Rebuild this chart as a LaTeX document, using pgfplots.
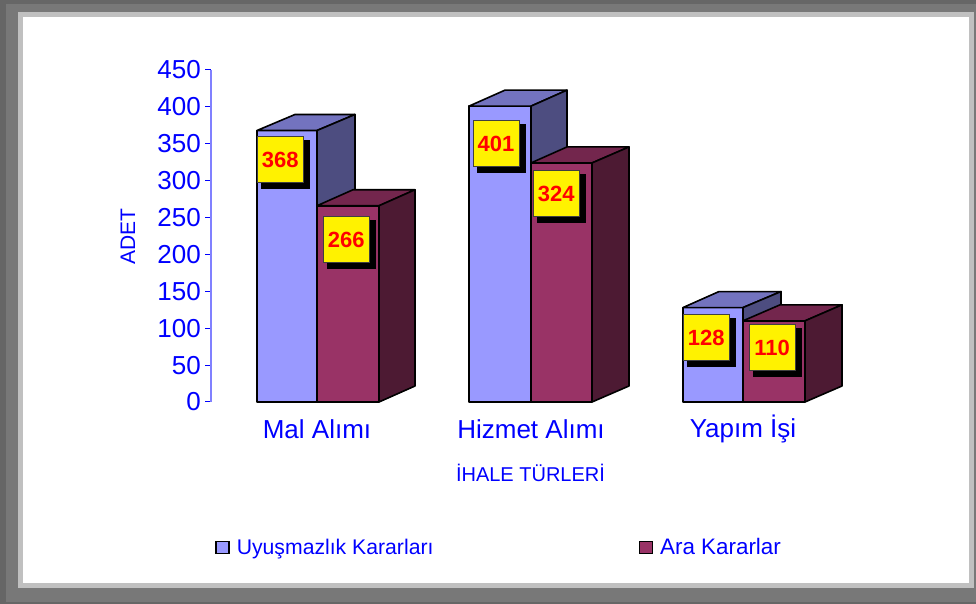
\documentclass[border=0pt]{standalone}
\usepackage{pgfplots}
\pgfplotsset{compat=1.18}
\usepackage{fontspec}
\setmainfont{Liberation Sans}
\definecolor{frameD}{HTML}{666666}
\definecolor{frameM}{HTML}{787878}
\definecolor{frameL}{HTML}{C0C0C0}
\definecolor{axisL}{HTML}{8080FF}
\definecolor{txt}{HTML}{0000FF}
\definecolor{aF}{HTML}{9999FF}
\definecolor{aT}{HTML}{7373BF}
\definecolor{aS}{HTML}{4D4D80}
\definecolor{bF}{HTML}{993366}
\definecolor{bT}{HTML}{73264D}
\definecolor{bS}{HTML}{4D1A33}
\newcommand{\fs}[1]{\fontsize{#1}{#1}\selectfont}
\tikzset{
  edge/.style={draw=black,line width=1.6pt,line join=round},
  boxS/.style={fill=black,draw=none,minimum width=49pt,minimum height=49pt,inner sep=0pt,anchor=center},
  boxY/.style={fill=yellow,draw=black!75,line width=0.6pt,minimum width=46pt,minimum height=46pt,inner sep=0pt,anchor=center,text=red,font=\fs{22}\bfseries},
}
\newcommand{\lab}[3]{%
  \addplot[draw=none,forget plot] coordinates {(#1,#2)}
    node[pos=0,boxS,xshift=5.3pt,yshift=#3pt-4.8pt] {}
    node[pos=0,boxY,yshift=#3pt] {#2};
}
\begin{document}
\begin{tikzpicture}[x=1pt,y=1pt]
\path[use as bounding box] (0,0) rectangle (976,604);
\fill[frameD] (0,0) rectangle (976,604);
\fill[frameM] (6,2) rectangle (976,600);
\fill[frameL] (18,16) rectangle (974,592);
\fill[white] (23,21) rectangle (969,587);
\begin{axis}[
  at={(211pt,202pt)},anchor=origin,
  scale only axis,width=700pt,height=332pt,
  xmin=211,xmax=911,ymin=0,ymax=450,
  clip=false,
  axis y line=left,axis x line=bottom,
  y axis line style={-,draw=axisL,line width=2pt},
  x axis line style={-,draw=none},
  xtick={317,531,743},
  xticklabels={Mal Alımı,Hizmet Alımı,Yapım İşi},
  ytick={0,50,...,450},
  tick align=outside,
  major tick length=6pt,
  xtick style={draw=none},
  ytick style={draw=txt,line width=1pt},
  tick label style={font=\fs{26},text=txt},
  /pgf/number format/assume math mode=true,
  yticklabel style={inner sep=0pt,xshift=-4pt},
  xticklabel style={anchor=center,yshift=-21pt,inner sep=0pt},
  xlabel={İHALE TÜRLERİ},
  xlabel style={at={(axis description cs:0.4564,-0.2139)},anchor=center,font=\fs{20},text=txt,inner sep=0pt},
  ylabel={ADET},
  ylabel style={at={(axis description cs:-0.1186,0.497)},anchor=center,font=\fs{21},text=txt,inner sep=0pt,rotate=0},
  legend columns=2,
  legend style={at={(axis cs:215,-197)},anchor=west,draw=none,fill=none,font=\fs{21},text=txt,inner sep=0pt,
    /tikz/every even column/.append style={column sep=203pt}},
  legend image code/.code={\draw[#1,line width=1.6pt] (0pt,-6pt) rectangle (13pt,6pt);},
]
% axis line
\addplot[axisL,line width=2pt,forget plot] coordinates {(211,0)(211,450)};
% Mal Alımı
\addplot[ybar,bar width=60pt,fill=aF,edge,forget plot] coordinates {(287,368)};
\addplot[fill=aT,edge,forget plot] coordinates {(257,368)(317,368)(355,389.7)(295,389.7)} -- cycle;
\addplot[fill=aS,edge,forget plot] coordinates {(317,0)(355,21.7)(355,389.7)(317,368)} -- cycle;
\addplot[ybar,bar width=62pt,fill=bF,edge,forget plot] coordinates {(348,266)};
\addplot[fill=bT,edge,forget plot] coordinates {(317,266)(379,266)(415,287.7)(353,287.7)} -- cycle;
\addplot[fill=bS,edge,forget plot] coordinates {(379,0)(415,21.7)(415,287.7)(379,266)} -- cycle;
% Hizmet Alımı
\addplot[ybar,bar width=62pt,fill=aF,edge,forget plot] coordinates {(500,401)};
\addplot[fill=aT,edge,forget plot] coordinates {(469,401)(531,401)(567,422.7)(505,422.7)} -- cycle;
\addplot[fill=aS,edge,forget plot] coordinates {(531,0)(567,21.7)(567,422.7)(531,401)} -- cycle;
\addplot[ybar,bar width=61pt,fill=bF,edge,forget plot] coordinates {(561.5,324)};
\addplot[fill=bT,edge,forget plot] coordinates {(531,324)(592,324)(629,345.7)(567,345.7)} -- cycle;
\addplot[fill=bS,edge,forget plot] coordinates {(592,0)(629,21.7)(629,345.7)(592,324)} -- cycle;
% Yapım İşi
\addplot[ybar,bar width=60pt,fill=aF,edge,forget plot] coordinates {(713,128)};
\addplot[fill=aT,edge,forget plot] coordinates {(683,128)(743,128)(781,149.7)(719,149.7)} -- cycle;
\addplot[fill=aS,edge,forget plot] coordinates {(743,0)(781,21.7)(781,149.7)(743,128)} -- cycle;
\addplot[ybar,bar width=62pt,fill=bF,edge,forget plot] coordinates {(774,110)};
\addplot[fill=bT,edge,forget plot] coordinates {(743,110)(805,110)(842,131.7)(780,131.7)} -- cycle;
\addplot[fill=bS,edge,forget plot] coordinates {(805,0)(842,21.7)(842,131.7)(805,110)} -- cycle;
% labels
\lab{280.2}{368}{-29.2}
\lab{346.2}{266}{-33.7}
\lab{496}{401}{-37.4}
\lab{556.2}{324}{-30.5}
\lab{706.2}{128}{-29.9}
\lab{772.2}{110}{-26.7}
\addlegendimage{fill=aF,draw=black}
\addlegendentry{\hspace*{5pt}\fs{21.2}Uyuşmazlık Kararları}
\addlegendimage{fill=bF,draw=black}
\addlegendentry{\hspace*{5pt}\fs{22.4}Ara Kararlar}
\end{axis}
\end{tikzpicture}
\end{document}
